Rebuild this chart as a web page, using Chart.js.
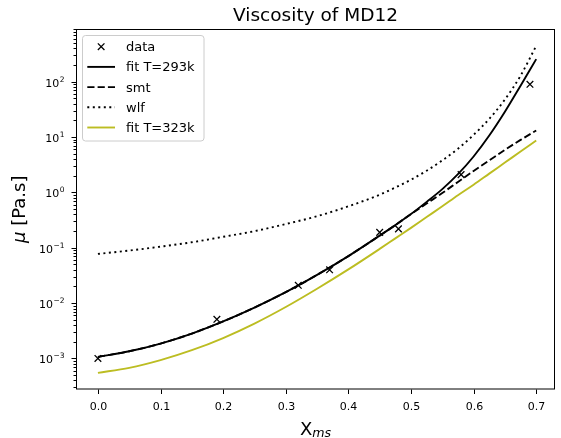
<!DOCTYPE html>
<html>
<head>
<meta charset="utf-8">
<script src="https://cdn.jsdelivr.net/npm/chart.js@4.4.1/dist/chart.umd.min.js"></script>
<style>
  html, body { margin: 0; padding: 0; background: #fff; }
  canvas { display: block; }
</style>
</head>
<body>
<canvas id="chart" width="561" height="438"></canvas>
<script>
// Mass fraction grid shared by the model curves
const xGrid = [0, 0.05, 0.1, 0.15, 0.2, 0.25, 0.3, 0.35, 0.4, 0.45, 0.475, 0.5, 0.525, 0.55, 0.575, 0.6, 0.625, 0.65, 0.675, 0.7];

// Viscosity (Pa.s) of each model on xGrid
const fit293 = [1.07e-3, 1.35e-3, 1.86e-3, 2.82e-3, 4.68e-3, 8.32e-3, 0.0158, 0.0324, 0.0708, 0.166, 0.257, 0.407, 0.676, 1.15, 2.14, 4.47, 10.7, 28.8, 85.1, 257];
const smt    = [1.07e-3, 1.35e-3, 1.86e-3, 2.82e-3, 4.68e-3, 8.32e-3, 0.0158, 0.0324, 0.0708, 0.166, 0.257, 0.407, 0.631, 0.977, 1.55, 2.45, 3.80, 5.89, 8.91, 13.2];
const wlf    = [0.0776, 0.0891, 0.105, 0.126, 0.158, 0.200, 0.269, 0.372, 0.562, 0.912, 1.23, 1.70, 2.47, 3.80, 6.17, 11.0, 21.4, 47.9, 129, 447];
const fit323 = [5.50e-4, 6.76e-4, 9.33e-4, 1.41e-3, 2.34e-3, 4.27e-3, 8.51e-3, 0.0182, 0.0407, 0.0955, 0.148, 0.229, 0.359, 0.562, 0.891, 1.38, 2.19, 3.47, 5.50, 8.71];

// Measured points
const dataX  = [0.0, 0.19, 0.32, 0.37, 0.45, 0.48, 0.58, 0.69];
const dataMu = [1.0e-3, 5.1e-3, 0.021, 0.040, 0.19, 0.22, 2.1, 90];

// Axes
const xTicks = [0, 0.1, 0.2, 0.3, 0.4, 0.5, 0.6, 0.7];
const xTickLabels = ['0.0', '0.1', '0.2', '0.3', '0.4', '0.5', '0.6', '0.7'];
const yTickExps = [-3, -2, -1, 0, 1, 2];
const xRange = [-0.035, 0.73];
const yRange = [2.75e-4, 900];

const seriesLabels = ['data', 'fit T=293k', 'smt', 'wlf', 'fit T=323k'];
const titleText = 'Viscosity of MD12';

const FONT = '"DejaVu Sans", "Liberation Sans", sans-serif';
const OLIVE = '#bcbd22';

const pts = (xs, ys) => xs.map((x, i) => ({ x: x, y: ys[i] }));

const curve = (label, ys, color, dash, order) => ({
  label: label,
  data: pts(xGrid, ys),
  borderColor: color,
  backgroundColor: color,
  borderWidth: 1.9,
  borderDash: dash,
  pointRadius: 0,
  cubicInterpolationMode: 'monotone',
  fill: false,
  order: order
});

const supMinus = s => s.replace('-', '\u2212');

// Frame, ticks, tick labels, title and axis labels in the pyplot style
const axesDecor = {
  id: 'axesDecor',
  afterDraw(chart) {
    const ctx = chart.ctx;
    const a = chart.chartArea;
    const xs = chart.scales.x;
    const ys = chart.scales.y;
    ctx.save();
    ctx.strokeStyle = '#000';
    ctx.fillStyle = '#000';
    ctx.lineWidth = 1;

    // frame
    ctx.strokeRect(a.left + 0.5, a.top + 0.5, a.right - a.left - 1, a.bottom - a.top - 1);

    // x ticks
    ctx.font = '11px ' + FONT;
    ctx.textAlign = 'center';
    ctx.textBaseline = 'alphabetic';
    xTicks.forEach((v, i) => {
      const px = Math.round(xs.getPixelForValue(v)) + 0.5;
      ctx.beginPath();
      ctx.moveTo(px, a.bottom);
      ctx.lineTo(px, a.bottom + 4.5);
      ctx.stroke();
      ctx.fillText(xTickLabels[i], px, a.bottom + 20);
    });

    // y minor ticks
    for (let e = -4; e <= 2; e++) {
      for (let k = 2; k <= 9; k++) {
        const v = k * Math.pow(10, e);
        if (v < yRange[0] || v > yRange[1]) continue;
        const py = Math.round(ys.getPixelForValue(v)) + 0.5;
        ctx.beginPath();
        ctx.moveTo(a.left - 2.5, py);
        ctx.lineTo(a.left, py);
        ctx.stroke();
      }
    }

    // y major ticks with 10^n labels
    ctx.textAlign = 'left';
    yTickExps.forEach(e => {
      const py = Math.round(ys.getPixelForValue(Math.pow(10, e))) + 0.5;
      ctx.beginPath();
      ctx.moveTo(a.left - 4.5, py);
      ctx.lineTo(a.left, py);
      ctx.stroke();
      const expText = supMinus(String(e));
      ctx.font = '7.5px ' + FONT;
      const wSup = ctx.measureText(expText).width;
      ctx.font = '11px ' + FONT;
      const wBase = ctx.measureText('10').width;
      const xEnd = a.left - 11.5;
      ctx.fillText('10', xEnd - wSup - wBase - 0.5, py + 4);
      ctx.font = '7.5px ' + FONT;
      ctx.fillText(expText, xEnd - wSup, py - 0.5);
    });

    // title
    const cx = (a.left + a.right) / 2;
    ctx.font = '18.5px ' + FONT;
    ctx.textAlign = 'center';
    ctx.fillText(titleText, cx, 20.5);

    // x label: X with italic subscript
    ctx.textAlign = 'left';
    ctx.font = '18px ' + FONT;
    const wX = ctx.measureText('X').width;
    ctx.font = 'italic 12.6px ' + FONT;
    const wSub = ctx.measureText('ms').width;
    const x0 = cx - (wX + wSub) / 2;
    ctx.font = '18px ' + FONT;
    ctx.fillText('X', x0, 434.5);
    ctx.font = 'italic 12.6px ' + FONT;
    ctx.fillText('ms', x0 + wX, 437);

    // y label: italic mu followed by the unit
    const cy = (a.top + a.bottom) / 2;
    ctx.translate(25, cy);
    ctx.rotate(-Math.PI / 2);
    ctx.font = 'italic 18px ' + FONT;
    const wMu = ctx.measureText('\u03bc').width;
    ctx.font = '18px ' + FONT;
    const unit = ' [Pa.s]';
    const wUnit = ctx.measureText(unit).width;
    const y0 = -(wMu + wUnit) / 2;
    ctx.font = 'italic 18px ' + FONT;
    ctx.fillText('\u03bc', y0, 0);
    ctx.font = '18px ' + FONT;
    ctx.fillText(unit, y0 + wMu, 0);
    ctx.restore();
  }
};

// Legend box in the upper-left corner of the axes
const cornerLegend = {
  id: 'cornerLegend',
  afterDraw(chart) {
    const ctx = chart.ctx;
    const a = chart.chartArea;
    const l = a.left + 6.5, t = a.top + 6.5, w = 121.5, h = 105.5;
    ctx.save();
    ctx.beginPath();
    if (ctx.roundRect) ctx.roundRect(l, t, w, h, 3); else ctx.rect(l, t, w, h);
    ctx.fillStyle = 'rgba(255,255,255,0.8)';
    ctx.fill();
    ctx.strokeStyle = '#cccccc';
    ctx.lineWidth = 1;
    ctx.stroke();

    ctx.font = '13px ' + FONT;
    ctx.textAlign = 'left';
    ctx.textBaseline = 'alphabetic';
    chart.data.datasets.forEach((ds, i) => {
      const cy = t + 11.2 + i * 20.2;
      const hx0 = l + 4.8, hx1 = l + 32.5;
      ctx.strokeStyle = ds.borderColor;
      if (ds.showLine === false) {
        const r = 3.3, mx = (hx0 + hx1) / 2;
        ctx.lineWidth = ds.borderWidth;
        ctx.setLineDash([]);
        ctx.beginPath();
        ctx.moveTo(mx - r, cy - r); ctx.lineTo(mx + r, cy + r);
        ctx.moveTo(mx - r, cy + r); ctx.lineTo(mx + r, cy - r);
        ctx.stroke();
      } else {
        ctx.lineWidth = ds.borderWidth;
        ctx.setLineDash(ds.borderDash || []);
        ctx.beginPath();
        ctx.moveTo(hx0, cy);
        ctx.lineTo(hx1, cy);
        ctx.stroke();
      }
      ctx.setLineDash([]);
      ctx.fillStyle = '#000';
      ctx.fillText(ds.label, l + 43.5, cy + 4.5);
    });
    ctx.restore();
  }
};

new Chart(document.getElementById('chart'), {
  type: 'line',
  data: {
    datasets: [
      {
        label: seriesLabels[0],
        type: 'scatter',
        data: pts(dataX, dataMu),
        showLine: false,
        pointStyle: 'crossRot',
        pointRadius: 4.7,
        pointHoverRadius: 4.7,
        borderColor: '#000',
        backgroundColor: '#000',
        borderWidth: 1.3,
        order: 5
      },
      curve(seriesLabels[1], fit293, '#000', [], 4),
      curve(seriesLabels[2], smt, '#000', [7.2, 3.1], 3),
      curve(seriesLabels[3], wlf, '#000', [2, 3.5], 2),
      curve(seriesLabels[4], fit323, OLIVE, [], 1)
    ]
  },
  options: {
    responsive: false,
    devicePixelRatio: 1,
    animation: false,
    events: [],
    layout: { padding: { top: 29, right: 3, left: 0, bottom: 0 } },
    plugins: {
      legend: { display: false },
      title: { display: false },
      tooltip: { enabled: false }
    },
    scales: {
      x: {
        type: 'linear',
        min: xRange[0],
        max: xRange[1],
        grid: { display: false },
        border: { display: false },
        ticks: { display: false },
        afterFit: s => { s.height = 48.5; }
      },
      y: {
        type: 'logarithmic',
        min: yRange[0],
        max: yRange[1],
        grid: { display: false },
        border: { display: false },
        ticks: { display: false },
        afterFit: s => { s.width = 76; }
      }
    }
  },
  plugins: [axesDecor, cornerLegend]
});
</script>
</body>
</html>
